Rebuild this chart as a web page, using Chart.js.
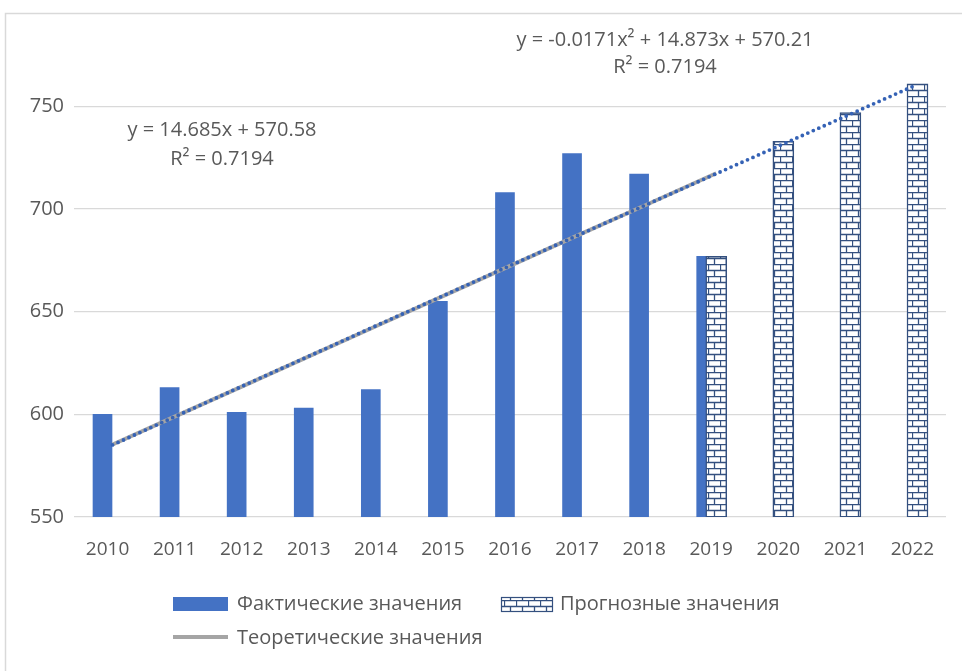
<!DOCTYPE html>
<html><head><meta charset="utf-8">
<script src="https://cdn.jsdelivr.net/npm/chart.js@4.4.1/dist/chart.umd.min.js"></script>
<style>html,body{margin:0;padding:0;background:#fff;}#wrap{width:962px;height:671px;position:relative;}</style>
</head><body>
<div id="wrap"><canvas id="c" width="962" height="671"></canvas></div>
<script>
// ---- data ----
const years = ['2010','2011','2012','2013','2014','2015','2016','2017','2018','2019','2020','2021','2022'];
const actualValues = [600, 613, 601, 603, 612, 655, 708, 727, 717, 677, null, null, null];
const forecastValues = [null, null, null, null, null, null, null, null, null, 677, 733, 747, 761];
const theoreticalValues = [585.3, 600.0, 614.6, 629.3, 644.0, 658.7, 673.4, 688.1, 702.7, 717.4, null, null, null];
const polyTrendValues = [585.1, 599.9, 614.7, 629.4, 644.2, 658.8, 673.5, 688.1, 702.7, 717.2, 731.7, 746.2, 760.7];
const yTicks = [550, 600, 650, 700, 750];
const seriesNames = ['Фактические значения', 'Прогнозные значения', 'Теоретические значения'];
const linearEq = ['y = 14.685x + 570.58', 'R² = 0.7194'];
const polyEq = ['y = -0.0171x² + 14.873x + 570.21', 'R² = 0.7194'];

// ---- styles ----
const BLUE = '#4472C4';
const NAVY = '#34507f';
const GRAY_LINE = '#a5a5a5';
const TEXT = '#595959';
const FONT = '"Open Sans", "Noto Sans", sans-serif';
const SHIFT = 0.075;

function brickPattern(ctx) {
  const c = document.createElement('canvas');
  c.width = 12; c.height = 12;
  const g = c.getContext('2d');
  g.fillStyle = '#ffffff'; g.fillRect(0, 0, 12, 12);
  g.strokeStyle = NAVY; g.lineWidth = 1.3;
  g.beginPath();
  g.moveTo(0, 0.5); g.lineTo(12, 0.5);
  g.moveTo(0, 6.5); g.lineTo(12, 6.5);
  g.moveTo(0.5, 0.5); g.lineTo(0.5, 6.5);
  g.moveTo(6.5, 6.5); g.lineTo(6.5, 12);
  g.stroke();
  return ctx.createPattern(c, 'repeat');
}

const canvas = document.getElementById('c');
const ctx0 = canvas.getContext('2d');
const BRICK = brickPattern(ctx0);

const pts = (arr, off) => arr.map((v, i) => v == null ? null : {x: i + off, y: v}).filter(p => p);

const decor = {
  id: 'decor',
  beforeDraw(chart) {
    const ctx = chart.ctx;
    ctx.save();
    ctx.fillStyle = '#fff'; ctx.fillRect(0, 0, 962, 671);
    ctx.strokeStyle = '#d9d9d9'; ctx.lineWidth = 1.5;
    ctx.beginPath(); ctx.moveTo(5.5, 671); ctx.lineTo(5.5, 13.5); ctx.lineTo(962, 13.5); ctx.stroke();
    ctx.restore();
  },
  afterDraw(chart) {
    const ctx = chart.ctx;
    ctx.save();
    ctx.font = '20px ' + FONT;
    ctx.fillStyle = TEXT;
    ctx.textBaseline = 'middle';
    // equations
    ctx.textAlign = 'center';
    ctx.fillText(linearEq[0], 222, 130);
    ctx.fillText(linearEq[1], 222, 159);
    ctx.fillText(polyEq[0], 665, 40);
    ctx.fillText(polyEq[1], 665, 67);
    // legend
    ctx.textAlign = 'left';
    ctx.fillStyle = BLUE;
    ctx.fillRect(173, 597, 55, 14);
    ctx.fillStyle = BRICK;
    ctx.fillRect(501, 597, 52, 15);
    ctx.strokeStyle = NAVY; ctx.lineWidth = 1.2;
    ctx.strokeRect(501.5, 597.5, 51, 14);
    ctx.strokeStyle = GRAY_LINE; ctx.lineWidth = 4;
    ctx.beginPath(); ctx.moveTo(173, 637); ctx.lineTo(228, 637); ctx.stroke();
    ctx.fillStyle = TEXT;
    ctx.fillText(seriesNames[0], 237, 604);
    ctx.fillText(seriesNames[1], 560, 604);
    ctx.fillText(seriesNames[2], 237, 638);
    ctx.restore();
  }
};

new Chart(canvas, {
  data: {
    datasets: [
      {type: 'line', label: seriesNames[2] + ' (poly)', data: pts(polyTrendValues, SHIFT), borderColor: '#3562b5',
       borderWidth: 3.8, borderDash: [0, 6], borderCapStyle: 'round', pointRadius: 0, order: 0, tension: 0},
      {type: 'line', label: seriesNames[2], data: pts(theoreticalValues, SHIFT), borderColor: GRAY_LINE,
       borderWidth: 4, pointRadius: 0, order: 1},
      {type: 'bar', label: seriesNames[1], data: pts(forecastValues, SHIFT), backgroundColor: BRICK,
       borderColor: NAVY, borderWidth: 1.5, barThickness: 21, grouped: false, order: 2},
      {type: 'bar', label: seriesNames[0], data: pts(actualValues, -SHIFT), backgroundColor: BLUE,
       borderWidth: 0, barThickness: 19, grouped: false, order: 3}
    ]
  },
  options: {
    responsive: false, animation: false, devicePixelRatio: 1,
    layout: {padding: {left: 0, right: 16, top: 55, bottom: 0}},
    plugins: {legend: {display: false}, tooltip: {enabled: false}},
    scales: {
      x: {
        type: 'linear', min: -0.5, max: 12.5, offset: false,
        afterBuildTicks: s => { s.ticks = years.map((_, i) => ({value: i})); },
        afterFit: s => { s.height = 154; },
        grid: {display: false}, border: {display: false},
        ticks: {callback: v => years[Math.round(v)], color: TEXT, font: {family: FONT, size: 19}, padding: 13, maxRotation: 0, autoSkip: false}
      },
      y: {
        min: 550, max: 775,
        afterBuildTicks: s => { s.ticks = yTicks.map(v => ({value: v})); },
        afterFit: s => { s.width = 74; },
        grid: {color: '#d9d9d9', lineWidth: 1.2, drawTicks: false}, border: {display: false},
        ticks: {color: TEXT, font: {family: FONT, size: 20}, padding: 10}
      }
    }
  },
  plugins: [decor]
});
</script>
</body></html>
